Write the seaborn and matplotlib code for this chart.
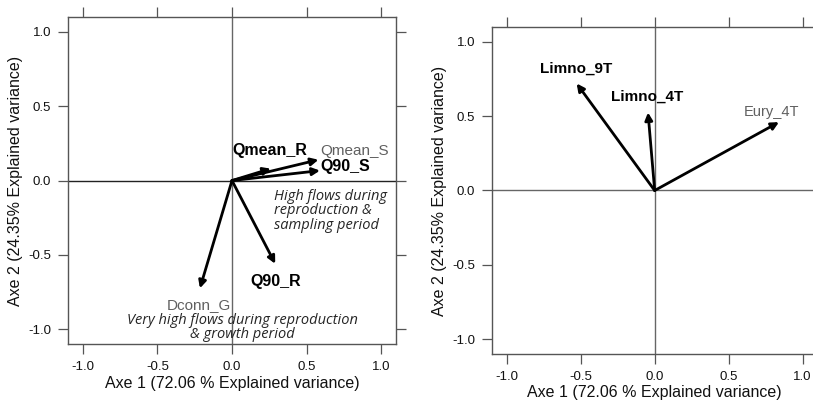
import matplotlib
matplotlib.use("Agg")
import matplotlib.pyplot as plt
import seaborn as sns

# left panel: environmental variables
env_names = ["Qmean_S", "Q90_S", "Qmean_R", "Q90_R", "Dconn_G"]
env_x = [0.58, 0.59, 0.26, 0.29, -0.215]
env_y = [0.14, 0.067, 0.08, -0.56, -0.725]
env_lab_x = [0.825, 0.76, 0.255, 0.29, -0.22]
env_lab_y = [0.20, 0.095, 0.20, -0.68, -0.84]
env_bold = [False, True, True, True, False]

# right panel: species groups
sp_names = ["Limno_9T", "Limno_4T", "Eury_4T"]
sp_x = [-0.527, -0.045, 0.84]
sp_y = [0.72, 0.525, 0.46]
sp_lab_x = [-0.53, -0.05, 0.79]
sp_lab_y = [0.82, 0.63, 0.53]
sp_bold = [True, True, False]

ticks = [-1.0, -0.5, 0.0, 0.5, 1.0]
xlab = "Axe 1 (72.06 % Explained variance)"
ylab = "Axe 2 (24.35% Explained variance)"

sns.set_style("ticks")
plt.rcParams["font.family"] = ["Liberation Sans", "DejaVu Sans"]

fig = plt.figure(figsize=(8.13, 4.01), dpi=100)
ax1 = fig.add_axes([0.0836, 0.142, 0.4035, 0.8155])
ax2 = fig.add_axes([0.605, 0.1172, 0.4005, 0.8155])


def setup(ax, hcol):
    ax.set_xlim(-1.1, 1.1)
    ax.set_ylim(-1.1, 1.1)
    ax.set_xticks(ticks)
    ax.set_yticks(ticks)
    ax.set_xticklabels([f"{t:.1f}" for t in ticks])
    ax.set_yticklabels([f"{t:.1f}" for t in ticks])
    ax.tick_params(direction="out", length=7, width=0.9, color="#555555",
                   labelsize=9.5, labelcolor="#111111", top=True, right=True,
                   labeltop=False, labelright=False, pad=5)
    for s in ax.spines.values():
        s.set_color("#555555")
        s.set_linewidth(1.0)
    ax.axvline(0, color="#666666", lw=1.0, zorder=0)
    ax.axhline(0, color=hcol, lw=1.0, zorder=0)
    ax.set_xlabel(xlab, fontsize=11.5, labelpad=2, color="#111111")
    ax.set_ylabel(ylab, fontsize=11.5, labelpad=4, color="#111111")


def arrows(ax, xs, ys, names, lx, ly, bold, fs):
    for x, y, n, tx, ty, b in zip(xs, ys, names, lx, ly, bold):
        ax.annotate("", xy=(x, y), xytext=(0, 0),
                    arrowprops=dict(arrowstyle="-|>", lw=2.0, color="black",
                                    mutation_scale=11, shrinkA=0, shrinkB=0))
        ax.text(tx, ty, n, ha="center", va="center",
                fontsize=fs if b else fs - 0.5,
                fontweight="bold" if b else "normal",
                color="black" if b else "#606060")


setup(ax1, "#222222")
arrows(ax1, env_x, env_y, env_names, env_lab_x, env_lab_y, env_bold, 11.5)
ax1.text(0.28, -0.055, "High flows during\nreproduction &\nsampling period",
         family="Open Sans", style="italic", fontsize=10.5, ha="left",
         va="top", linespacing=0.95)
ax1.text(0.07, -0.99, "Very high flows during reproduction\n& growth period",
         family="Open Sans", style="italic", fontsize=10.5, ha="center",
         va="center", linespacing=0.95)

setup(ax2, "#666666")
arrows(ax2, sp_x, sp_y, sp_names, sp_lab_x, sp_lab_y, sp_bold, 11)

fig.savefig("out.png", dpi=100)
